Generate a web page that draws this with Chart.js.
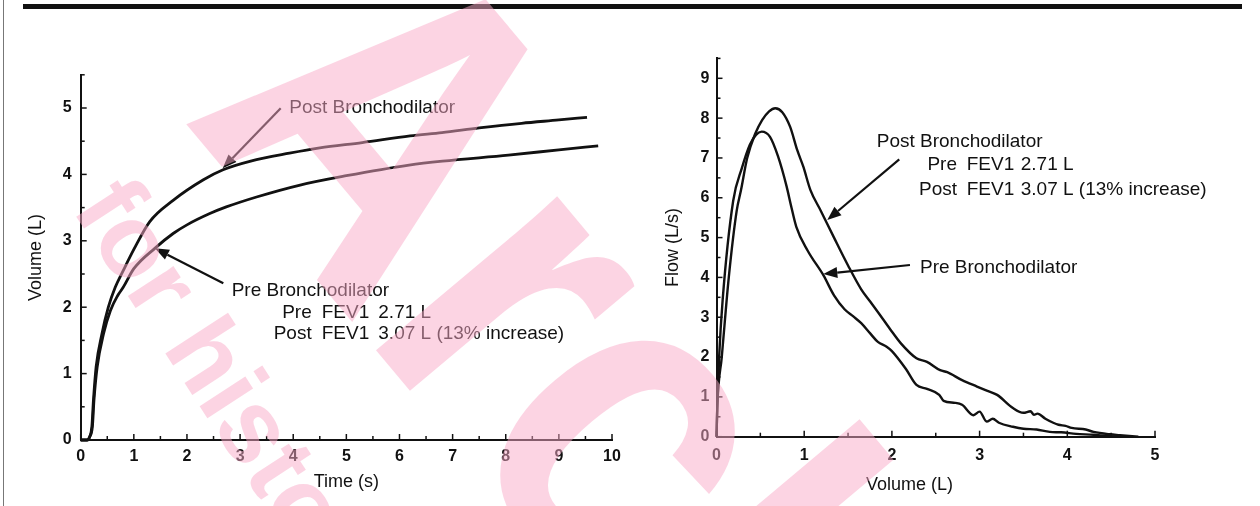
<!DOCTYPE html>
<html>
<head>
<meta charset="utf-8">
<script src="https://cdn.jsdelivr.net/npm/chart.js@4.4.0/dist/chart.umd.min.js"></script>
<style>
  body { margin: 0; background: #fff; }
  #page { position: relative; width: 1260px; height: 506px; overflow: hidden; background: #fff; }
  #topRule { position: absolute; left: 23px; top: 4px; width: 1219px; height: 5px; background: #111; }
  #leftRule { position: absolute; left: 3px; top: 0; width: 1px; height: 506px; background: #777; }
  canvas { position: absolute; top: 0; }
  #volTime { left: 0; }
  #flowVol { left: 640px; }
  #stamp { position: absolute; left: 0; top: 0; width: 1260px; height: 506px; overflow: hidden; pointer-events: none;
           font-family: "Liberation Sans", Arial, sans-serif; }
  #stamp span { position: absolute; white-space: nowrap; font-weight: bold; line-height: 1;
                color: rgba(250, 170, 200, 0.5); transform-origin: 0 0; }
  #stampBig { left: 472px; top: -128px; font-size: 450px; transform: rotate(50deg) scaleX(0.855); }
  #stampSmall { left: 144px; top: 161px; font-size: 103px; transform: rotate(57deg); }
</style>
</head>
<body>
<div id="page">
  <div id="leftRule"></div>
  <div id="topRule"></div>
  <canvas id="volTime" width="640" height="506"></canvas>
  <canvas id="flowVol" width="620" height="506"></canvas>
  <div id="stamp"><span id="stampBig">Archived</span><span id="stampSmall">for historical reference</span></div>
</div>
<script>
// volume-time curves (s, L)
const postTime   = [0, 0.12, 0.17, 0.21, 0.24, 0.29, 0.4, 0.52, 0.65, 0.8, 1.0, 1.3, 1.74, 2.31, 2.68, 3.2, 3.93, 4.5, 5.3, 6.2, 6.8, 7.5, 8.3, 9.0, 9.53];
const postVolume = [0, 0, 0.05, 0.2, 0.6, 1.1, 1.6, 2.0, 2.3, 2.55, 2.87, 3.29, 3.61, 3.92, 4.07, 4.2, 4.32, 4.4, 4.48, 4.58, 4.63, 4.7, 4.77, 4.82, 4.86];
const preTime    = [0, 0.12, 0.17, 0.22, 0.25, 0.31, 0.43, 0.56, 0.7, 0.8, 1.0, 1.4, 1.74, 2.0, 2.43, 2.74, 3.31, 4.13, 5.0, 6.18, 6.81, 8.05, 9.0, 9.74];
const preVolume  = [0, 0, 0.05, 0.2, 0.6, 1.1, 1.6, 1.95, 2.18, 2.3, 2.58, 2.89, 3.11, 3.24, 3.41, 3.51, 3.66, 3.84, 3.98, 4.14, 4.2, 4.29, 4.37, 4.43];

// flow-volume loops (L, L/s)
const postLoopVolume = [0, 0.01, 0.06, 0.14, 0.23, 0.28, 0.35, 0.44, 0.52, 0.6, 0.67, 0.75, 0.84, 0.92, 0.99, 1.07, 1.19, 1.34, 1.5, 1.65, 1.75, 1.85, 1.98, 2.1, 2.28, 2.4, 2.55, 2.63, 2.8, 2.97, 3.09, 3.2, 3.38, 3.5, 3.58, 3.62, 3.66, 3.75, 3.84, 3.9, 3.98, 4.05, 4.21, 4.3, 4.49, 4.6, 4.81];
const postLoopFlow   = [0, 0.8, 2.0, 4.0, 5.67, 6.2, 7.0, 7.6, 7.95, 8.17, 8.25, 8.15, 7.78, 7.2, 6.78, 6.2, 5.67, 5.0, 4.3, 3.7, 3.4, 3.1, 2.7, 2.35, 1.97, 1.88, 1.67, 1.62, 1.42, 1.26, 1.15, 1.05, 0.72, 0.6, 0.64, 0.55, 0.58, 0.45, 0.35, 0.3, 0.27, 0.22, 0.18, 0.12, 0.06, 0.04, 0];
const preLoopVolume  = [0, 0.01, 0.03, 0.07, 0.19, 0.29, 0.38, 0.45, 0.515, 0.61, 0.7, 0.8, 0.85, 0.91, 1.04, 1.22, 1.34, 1.46, 1.56, 1.65, 1.75, 1.84, 1.94, 2.0, 2.16, 2.28, 2.4, 2.54, 2.59, 2.72, 2.8, 2.93, 3.0, 3.08, 3.15, 3.22, 3.38, 3.5, 3.65, 3.8, 3.93, 4.1, 4.3, 4.45, 4.6];
const preLoopFlow    = [0, 0.8, 2.0, 3.43, 5.92, 6.75, 7.33, 7.58, 7.66, 7.53, 7.05, 6.28, 5.8, 5.27, 4.67, 4.05, 3.55, 3.2, 3.02, 2.85, 2.6, 2.38, 2.26, 2.15, 1.7, 1.3, 1.2, 1.05, 0.9, 0.85, 0.8, 0.54, 0.63, 0.38, 0.45, 0.35, 0.25, 0.2, 0.18, 0.12, 0.11, 0.07, 0.05, 0.02, 0];

const timeTicks = [0, 1, 2, 3, 4, 5, 6, 7, 8, 9, 10];
const volumeTicks = [0, 1, 2, 3, 4, 5];
const flowTicks = [0, 1, 2, 3, 4, 5, 6, 7, 8, 9];
const loopVolumeTicks = [0, 1, 2, 3, 4, 5];

const INK = '#111';
const FONT = '"Liberation Sans", Arial, Helvetica, sans-serif';
Chart.defaults.font.family = FONT;
Chart.defaults.color = INK;

function pts(xs, ys) {
  return xs.map((x, i) => ({ x: x, y: ys[i] }));
}

// short tick marks drawn inside the plot, majors and halves
const inwardTicks = {
  id: 'inwardTicks',
  afterDatasetsDraw(chart, args, opts) {
    const ctx = chart.ctx;
    const { x, y } = chart.scales;
    ctx.save();
    ctx.strokeStyle = INK;
    ctx.lineWidth = 1.5;
    for (let v = x.min; v <= x.max + 1e-9; v += opts.xStep) {
      const px = x.getPixelForValue(v);
      const len = Math.abs(v - Math.round(v)) < 1e-6 ? 6 : 4;
      ctx.beginPath(); ctx.moveTo(px, y.bottom); ctx.lineTo(px, y.bottom - len); ctx.stroke();
    }
    for (let v = y.min; v <= y.max + 1e-9; v += opts.yStep) {
      const py = y.getPixelForValue(v);
      const len = Math.abs(v - Math.round(v)) < 1e-6 ? 6 : 4;
      ctx.beginPath(); ctx.moveTo(x.left, py); ctx.lineTo(x.left + len, py); ctx.stroke();
    }
    ctx.restore();
  }
};

// labels and arrows placed in data units
const notes = {
  id: 'notes',
  afterDatasetsDraw(chart, args, opts) {
    const ctx = chart.ctx;
    const { x, y } = chart.scales;
    ctx.save();
    ctx.fillStyle = INK;
    ctx.strokeStyle = INK;
    ctx.font = '19px ' + FONT;
    ctx.textBaseline = 'alphabetic';
    (opts.texts || []).forEach(t => {
      ctx.textAlign = t.align || 'left';
      ctx.fillText(t.text, x.getPixelForValue(t.x), y.getPixelForValue(t.y));
    });
    (opts.arrows || []).forEach(a => {
      const x1 = x.getPixelForValue(a[0]), y1 = y.getPixelForValue(a[1]);
      const x2 = x.getPixelForValue(a[2]), y2 = y.getPixelForValue(a[3]);
      const ang = Math.atan2(y2 - y1, x2 - x1);
      const head = 14, half = 5.5;
      const bx = x2 - head * Math.cos(ang), by = y2 - head * Math.sin(ang);
      ctx.lineWidth = 2.2;
      ctx.beginPath(); ctx.moveTo(x1, y1); ctx.lineTo(bx, by); ctx.stroke();
      ctx.beginPath();
      ctx.moveTo(x2, y2);
      ctx.lineTo(bx + half * Math.sin(ang), by - half * Math.cos(ang));
      ctx.lineTo(bx - half * Math.sin(ang), by + half * Math.cos(ang));
      ctx.closePath(); ctx.fill();
    });
    if (opts.xTitle) {
      ctx.font = '18px ' + FONT;
      ctx.textAlign = 'center';
      ctx.textBaseline = 'middle';
      ctx.fillText(opts.xTitle.text, x.getPixelForValue(opts.xTitle.at), y.bottom + opts.xTitle.dy);
    }
    ctx.restore();
  }
};

function lineSet(xs, ys, width) {
  return {
    data: pts(xs, ys), showLine: true, borderColor: INK, borderWidth: width,
    pointRadius: 0, cubicInterpolationMode: 'monotone', clip: 6
  };
}

function axis(min, max, tickList, extra) {
  return Object.assign({
    type: 'linear', min: min, max: max,
    afterBuildTicks: s => { s.ticks = tickList.map(v => ({ value: v })); },
    grid: { display: false, drawTicks: false },
    border: { display: true, color: INK, width: 2 },
    ticks: { color: INK, font: { size: 16, weight: 'bold' }, maxRotation: 0, autoSkip: false }
  }, extra);
}

new Chart(document.getElementById('volTime'), {
  type: 'scatter',
  data: { datasets: [lineSet(postTime, postVolume, 2.8), lineSet(preTime, preVolume, 2.8)] },
  options: {
    responsive: false, animation: false, events: [],
    layout: { padding: { left: 10, right: 28, top: 74.8, bottom: 10 } },
    plugins: {
      legend: { display: false }, tooltip: { enabled: false },
      inwardTicks: { xStep: 0.5, yStep: 0.5 },
      notes: {
        texts: [
          { text: 'Post Bronchodilator', x: 3.926, y: 4.92 },
          { text: 'Pre Bronchodilator', x: 2.842, y: 2.169 },
          { text: 'Pre', x: 4.348, y: 1.833, align: 'right' },
          { text: 'FEV1', x: 4.536, y: 1.833 },
          { text: '2.71 L', x: 5.601, y: 1.833 },
          { text: 'Post', x: 4.348, y: 1.517, align: 'right' },
          { text: 'FEV1', x: 4.536, y: 1.517 },
          { text: '3.07 L (13% increase)', x: 5.601, y: 1.517 }
        ],
        arrows: [
          [3.764, 4.995, 2.673, 4.092],
          [2.684, 2.36, 1.398, 2.887]
        ]
      }
    },
    scales: {
      x: axis(0, 10, timeTicks, {
        afterFit: s => { s.height = 56; },
        ticks: { color: INK, font: { size: 16, weight: 'bold' }, maxRotation: 0, autoSkip: false, padding: 7 },
        title: { display: true, text: 'Time (s)', color: INK, font: { size: 18 }, padding: { top: 0, bottom: 3 } }
      }),
      y: axis(0, 5.5, volumeTicks, {
        afterFit: s => { s.width = 70.7; },
        ticks: { color: INK, font: { size: 16, weight: 'bold' }, padding: 9 },
        title: { display: true, text: 'Volume (L)', color: INK, font: { size: 18 }, padding: { top: 15, bottom: 0 } }
      })
    }
  },
  plugins: [inwardTicks, notes]
});

new Chart(document.getElementById('flowVol'), {
  type: 'scatter',
  data: { datasets: [lineSet(postLoopVolume, postLoopFlow, 2.4), lineSet(preLoopVolume, preLoopFlow, 2.4)] },
  options: {
    responsive: false, animation: false, events: [],
    layout: { padding: { left: 10, right: 105, top: 58.4, bottom: 13.3 } },
    plugins: {
      legend: { display: false }, tooltip: { enabled: false },
      inwardTicks: { xStep: 0.5, yStep: 0.5 },
      notes: {
        texts: [
          { text: 'Post Bronchodilator', x: 1.827, y: 7.268 },
          { text: 'Pre', x: 2.742, y: 6.698, align: 'right' },
          { text: 'FEV1', x: 2.853, y: 6.698 },
          { text: '2.71 L', x: 3.469, y: 6.698 },
          { text: 'Post', x: 2.742, y: 6.07, align: 'right' },
          { text: 'FEV1', x: 2.853, y: 6.07 },
          { text: '3.07 L (13% increase)', x: 3.469, y: 6.07 },
          { text: 'Pre Bronchodilator', x: 2.32, y: 4.103 }
        ],
        arrows: [
          [2.084, 6.966, 1.263, 5.442],
          [2.206, 4.312, 1.218, 4.086]
        ],
        xTitle: { text: 'Volume (L)', at: 2.2, dy: 48 }
      }
    },
    scales: {
      x: axis(0, 5, loopVolumeTicks, {
        afterFit: s => { s.height = 56; },
        ticks: { color: INK, font: { size: 16, weight: 'bold' }, maxRotation: 0, autoSkip: false, padding: 9 }
      }),
      y: axis(0, 9.5, flowTicks, {
        afterFit: s => { s.width = 66.5; },
        ticks: { color: INK, font: { size: 16, weight: 'bold' }, padding: 7 },
        title: { display: true, text: 'Flow (L/s)', color: INK, font: { size: 18 }, padding: { top: 12, bottom: 0 } }
      })
    }
  },
  plugins: [inwardTicks, notes]
});
</script>
</body>
</html>
